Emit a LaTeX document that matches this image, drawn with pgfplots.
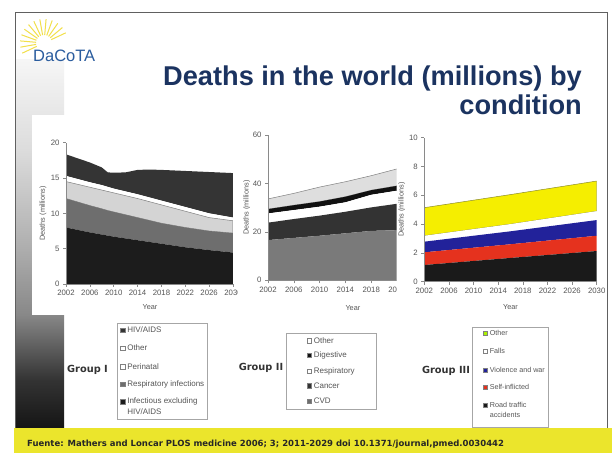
\documentclass[border=0pt]{standalone}
\usepackage{pgfplots}
\pgfplotsset{compat=1.18}
\usepackage{pgfplotstable}
\usetikzlibrary{calc}
\usepackage{fontspec}
\setmainfont{Liberation Sans}
\newfontfamily\dejavu{DejaVu Sans}
\definecolor{navy}{HTML}{1B3360}
\definecolor{logoblue}{HTML}{2A5C9E}
\definecolor{footyellow}{HTML}{EBE52C}
\definecolor{sunyellow}{HTML}{F2E04A}
\definecolor{txtgray}{HTML}{555555}
\definecolor{axgray}{HTML}{8A8A8A}
\definecolor{hiv}{HTML}{343434}
\definecolor{inf}{HTML}{1C1C1C}
\definecolor{resp}{HTML}{6E6E6E}
\definecolor{peri}{HTML}{D4D4D4}
\definecolor{cvd}{HTML}{7A7A7A}
\definecolor{cancer}{HTML}{333333}
\definecolor{dig}{HTML}{111111}
\definecolor{othII}{HTML}{DEDEDE}
\definecolor{yel}{HTML}{F5EE00}
\definecolor{yelline}{HTML}{8C8C2A}
\definecolor{redc}{HTML}{E5321E}
\definecolor{bluec}{HTML}{22229A}
\definecolor{road}{HTML}{1A1A1A}
\definecolor{c1}{HTML}{151515}
\definecolor{c2}{HTML}{333333}
\definecolor{c3}{HTML}{888888}
\definecolor{c4}{HTML}{B0B0B0}
\definecolor{c5}{HTML}{DCDCDC}
\definecolor{c6}{HTML}{F6F6F6}
\pgfdeclareverticalshading{bar}{100bp}{color(0bp)=(c1); color(25bp)=(c1); color(31.5bp)=(c2); color(40.4bp)=(c3); color(50bp)=(c4); color(62.8bp)=(c5); color(75bp)=(c6); color(100bp)=(c6)}

% Group I (communicable etc.), increments of the stack
\pgfplotstableread{
year inf  resp peri other hiv
2002 8.0  4.1  2.4  0.8  3.05
2006 7.3  3.8  2.6  0.7  2.8
2008 7.0  3.65 2.65 0.7  2.5
2009 6.85 3.55 2.7  0.65 2.05
2010 6.7  3.5  2.7  0.6  2.25
2012 6.45 3.35 2.7  0.6  2.7
2014 6.2  3.2  2.7  0.6  3.45
2016 5.95 3.05 2.65 0.6  3.95
2018 5.7  2.9  2.6  0.6  4.35
2022 5.2  2.8  2.3  0.6  5.1
2026 4.8  2.7  1.9  0.6  5.85
2030 4.45 2.75 1.75 0.45 6.3
}\groupI

% Group II (noncommunicable)
\pgfplotstableread{
year cvd  cancer resp dig other
2002 16.6 7.2    3.8  1.8 4.2
2006 17.5 7.8    3.7  2.0 4.9
2010 18.4 8.3    3.7  2.1 6.0
2014 19.4 8.9    3.9  2.3 6.2
2018 20.4 9.7    5.2  1.9 6.0
2022 20.7 10.9   5.4  2.0 7.0
}\groupII

% Group III (injuries)
\pgfplotstableread{
year road self violence falls other
2002 1.16 0.88 0.74 0.41 1.95
2016 1.65 0.95 0.90 0.50 2.05
2030 2.13 1.06 1.09 0.62 2.09
}\groupIII

\pgfplotsset{
  slide/.style={
    scale only axis, anchor=south west,
    axis lines=left, axis line style={-, draw=axgray, line width=0.6pt},
    axis on top,
    tick align=outside, major tick length=3pt,
    tick style={draw=axgray, line width=0.5pt},
    enlargelimits=false, xmin=2002, xmax=2030, ymin=0,
    xtick={2002,2006,...,2030},
    /pgf/number format/assume math mode=true,
    /pgf/number format/1000 sep={},
    ticklabel style={font=\fontsize{7.8}{9}\selectfont, text=txtgray},
    label style={font=\fontsize{7.3}{9}\selectfont, text=txtgray},
    xlabel={Year}, ylabel={Deaths (millions)},
    stack plots=y,
  },
}

\newcommand{\legsq}[4]{%
  \node[draw=gray, fill=#3, minimum size=4.4pt, inner sep=0pt, line width=0.4pt] at (#1,#2) {};
  \node[anchor=west, inner sep=0pt, text=txtgray] at (#1+4.6,#2) {#4};
}

\begin{document}
\begin{tikzpicture}[x=1pt,y=1pt]
\useasboundingbox (0,0) rectangle (616,453);
\fill[white] (0,0) rectangle (616,453);

% left gradient bar
\shade[shading=bar] (15,25) rectangle (64,393);
% white box behind chart 1
\fill[white] (32,138) rectangle (250,338);

% slide frame
\draw[gray!75!black, line width=0.8pt] (15,25) -- (15,441) -- (607,441) -- (607,25);
% footer band
\fill[footyellow] (14,0) rectangle (612,25.5);
\node[anchor=base west, inner sep=0pt, font=\dejavu\bfseries\fontsize{8.5}{10}\selectfont, text=black!85]
  at (27,6.5) {Fuente: Mathers and Loncar PLOS medicine 2006; 3; 2011-2029 doi 10.1371/journal,pmed.0030442};

% logo
\foreach \a in {25,40,...,205} {
  \draw[sunyellow, line width=1pt] ($(44,410)+(\a:8)$) -- ($(44,410)+(\a:24)$);
}
\node[anchor=base west, inner sep=0pt, font=\fontsize{16.5}{19}\selectfont, text=logoblue] at (33,391) {DaCoTA};

% title
\node[anchor=base east, inner sep=0pt, font=\bfseries\fontsize{27.2}{31}\selectfont, text=navy] at (582,367) {Deaths in the world (millions) by};
\node[anchor=base east, inner sep=0pt, font=\bfseries\fontsize{27.2}{31}\selectfont, text=navy] at (582,338) {condition};

% ---------- chart 1: Group I ----------
\begin{scope}
\clip (32,130) rectangle (237,340);
\begin{axis}[slide, at={(66pt,169pt)}, width=167pt, height=141.3pt, ymax=20,
  ytick={0,5,10,15,20},
  xlabel style={at={(axis description cs:0.503,-0.163)}, anchor=center},
  ylabel style={at={(axis description cs:-0.138,0.5)}, anchor=center}]
\addplot[fill=inf, draw=none] table[x=year, y=inf]{\groupI} \closedcycle;
\addplot[fill=resp, draw=none] table[x=year, y=resp]{\groupI} \closedcycle;
\addplot[fill=peri, draw=gray, line width=0.5pt] table[x=year, y=peri]{\groupI} \closedcycle;
\addplot[fill=white, draw=none] table[x=year, y=other]{\groupI} \closedcycle;
\addplot[fill=hiv, draw=none] table[x=year, y=hiv]{\groupI} \closedcycle;
\end{axis}
\end{scope}

% ---------- chart 2: Group II ----------
\begin{scope}
\clip (237,130) rectangle (396.5,340);
\begin{axis}[slide, at={(268pt,172.7pt)}, width=180.6pt, height=145.3pt, ymax=60,
  ytick={0,20,40,60},
  xlabel style={at={(axis description cs:0.47,-0.189)}, anchor=center},
  ylabel style={at={(axis description cs:-0.118,0.5)}, anchor=center}]
\addplot[fill=cvd, draw=none] table[x=year, y=cvd]{\groupII} \closedcycle;
\addplot[fill=cancer, draw=none] table[x=year, y=cancer]{\groupII} \closedcycle;
\addplot[fill=white, draw=none] table[x=year, y=resp]{\groupII} \closedcycle;
\addplot[fill=dig, draw=none] table[x=year, y=dig]{\groupII} \closedcycle;
\addplot[fill=othII, draw=gray, line width=0.5pt] table[x=year, y=other]{\groupII} \closedcycle;
\end{axis}
\end{scope}

% ---------- chart 3: Group III ----------
\begin{axis}[slide, at={(424.3pt,171.3pt)}, width=172.4pt, height=144pt, ymax=10,
  ytick={0,2,...,10},
  xlabel style={at={(axis description cs:0.5,-0.176)}, anchor=center},
  ylabel style={at={(axis description cs:-0.131,0.5)}, anchor=center}]
\addplot[fill=road, draw=none] table[x=year, y=road]{\groupIII} \closedcycle;
\addplot[fill=redc, draw=none] table[x=year, y=self]{\groupIII} \closedcycle;
\addplot[fill=bluec, draw=none] table[x=year, y=violence]{\groupIII} \closedcycle;
\addplot[fill=white, draw=none] table[x=year, y=falls]{\groupIII} \closedcycle;
\addplot[fill=yel, draw=yelline, line width=0.5pt] table[x=year, y=other]{\groupIII} \closedcycle;
\end{axis}

% ---------- legends ----------
\draw[gray!70, line width=0.6pt, fill=white] (117,34) rectangle (207,130);
\begin{scope}[font=\fontsize{8}{9}\selectfont]
\legsq{122.5}{123}{hiv}{HIV/AIDS}
\legsq{122.5}{105}{white}{Other}
\legsq{122.5}{86.5}{white}{Perinatal}
\legsq{122.5}{69}{resp}{Respiratory infections}
\legsq{122.5}{51.5}{inf}{Infectious excluding}
\node[anchor=west, inner sep=0pt, text=txtgray] at (127.1,41.5) {HIV/AIDS};
\end{scope}

\draw[gray!70, line width=0.6pt, fill=white] (286,44) rectangle (376,120);
\begin{scope}[font=\fontsize{8}{9}\selectfont]
\legsq{309}{112.3}{white}{Other}
\legsq{309}{98}{dig}{Digestive}
\legsq{309}{82}{white}{Respiratory}
\legsq{309}{67.3}{cancer}{Cancer}
\legsq{309}{52}{resp}{CVD}
\end{scope}

\draw[gray!70, line width=0.6pt, fill=white] (472,25.5) rectangle (548,126);
\begin{scope}[font=\fontsize{7.2}{9}\selectfont]
\legsq{485}{120}{yel!70!green}{Other}
\legsq{485}{102}{white}{Falls}
\legsq{485}{83}{bluec}{Violence and war}
\legsq{485}{66}{redc}{Self-inflicted}
\legsq{485}{48}{road}{Road traffic}
\node[anchor=west, inner sep=0pt, text=txtgray] at (489.6,38) {accidents};
\end{scope}

% group labels
\node[font=\dejavu\bfseries\fontsize{9.8}{11}\selectfont, text=black!80] at (87.5,83) {Group I};
\node[font=\dejavu\bfseries\fontsize{9.8}{11}\selectfont, text=black!80] at (261,85) {Group II};
\node[font=\dejavu\bfseries\fontsize{9.8}{11}\selectfont, text=black!80] at (446,82) {Group III};
\end{tikzpicture}
\end{document}
